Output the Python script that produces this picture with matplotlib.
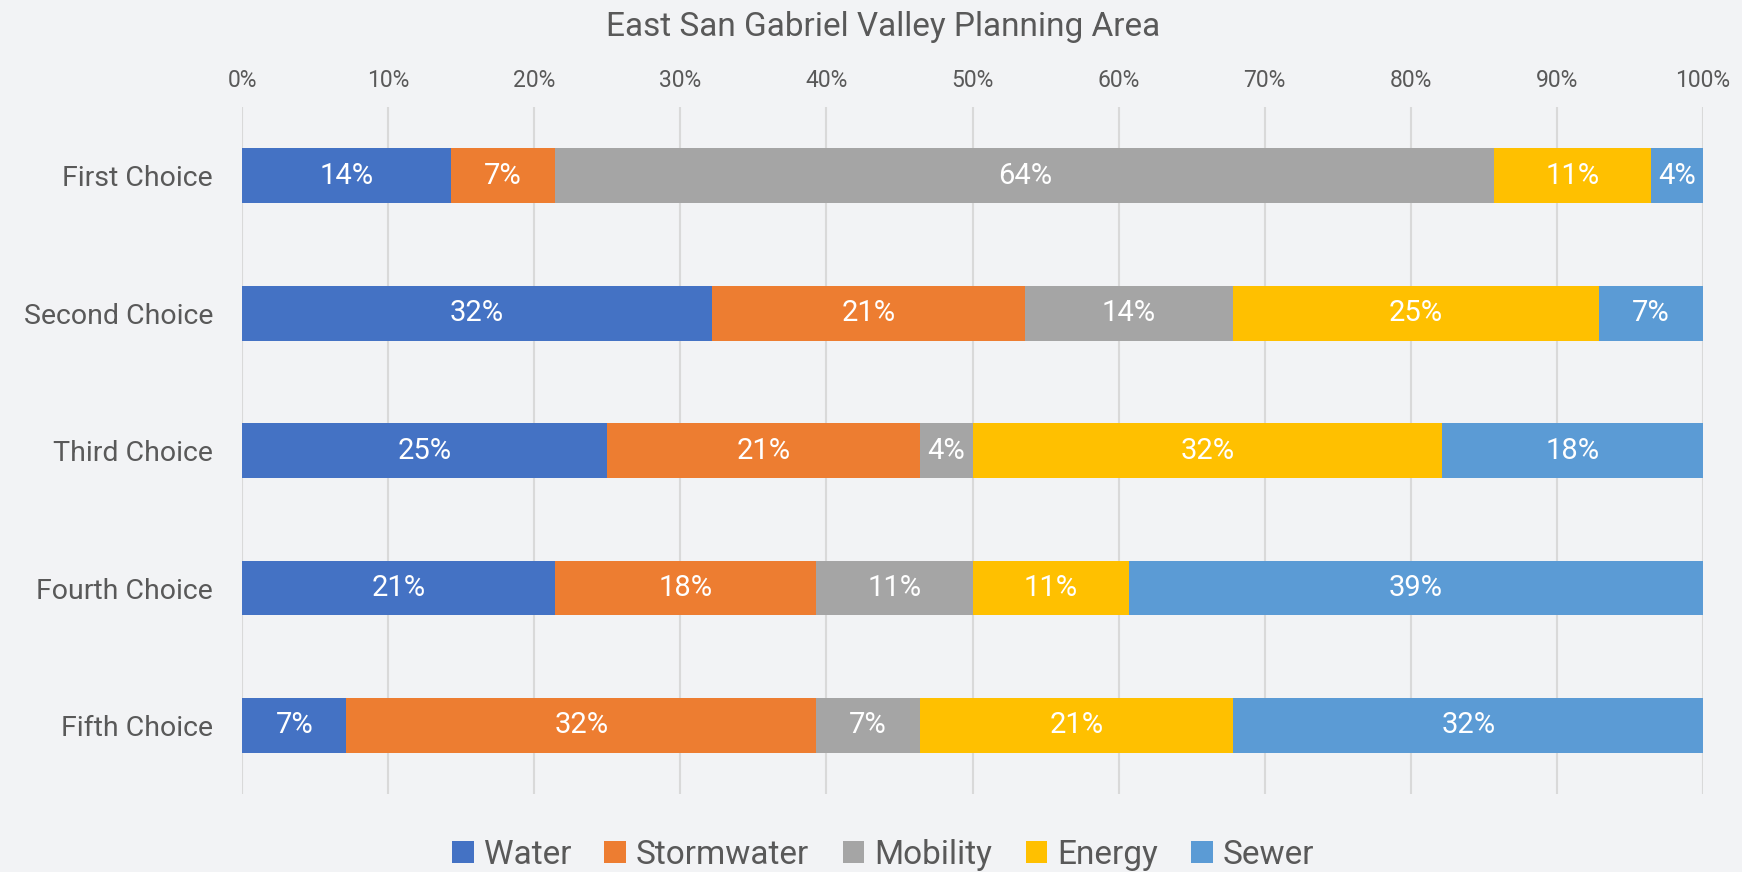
import numpy as np
import matplotlib
matplotlib.use("Agg")
import matplotlib.pyplot as plt

plt.rcParams['font.family'] = ['Roboto', 'DejaVu Sans']

# responses per choice (28 respondents), shown as 100% stacked bars
choices = ['First Choice', 'Second Choice', 'Third Choice', 'Fourth Choice', 'Fifth Choice']
water = [4, 9, 7, 6, 2]
stormwater = [2, 6, 6, 5, 9]
mobility = [18, 4, 1, 3, 2]
energy = [3, 7, 9, 3, 6]
sewer = [1, 2, 5, 11, 9]

series = ['Water', 'Stormwater', 'Mobility', 'Energy', 'Sewer']
colors = ['#4472C4', '#ED7D31', '#A5A5A5', '#FFC000', '#5B9BD5']
ticks = [0, 0.1, 0.2, 0.3, 0.4, 0.5, 0.6, 0.7, 0.8, 0.9, 1.0]

bg = '#F2F3F5'
txt = '#595959'

data = np.array([water, stormwater, mobility, energy, sewer], dtype=float)
share = data / data.sum(axis=0)

fig = plt.figure(figsize=(17.42, 8.72), dpi=100, facecolor=bg)
ax = fig.add_axes([0.139, 0.0894, 0.8386, 0.7876], facecolor=bg)

y = np.arange(len(choices))
left = np.zeros(len(choices))
for name, col, vals in zip(series, colors, share):
    ax.barh(y, vals, left=left, height=0.4, color=col, label=name, zorder=3)
    for yi, l, v in zip(y, left, vals):
        ax.text(l + v / 2, yi, '{:.0%}'.format(v), ha='center', va='center',
                color='white', fontsize=21, zorder=4)
    left += vals

ax.set_xlim(0, 1)
ax.set_ylim(len(choices) - 0.5, -0.5)
ax.set_yticks(y)
ax.set_yticklabels(choices, fontsize=20.5, color=txt)
ax.set_xticks(ticks)
ax.set_xticklabels(['{:.0%}'.format(t) for t in ticks], fontsize=16.5, color=txt)
ax.xaxis.tick_top()
ax.tick_params(axis='both', length=0)
ax.tick_params(axis='x', pad=11)
ax.tick_params(axis='y', pad=21)
ax.grid(axis='x', color='#D9D9D9', linewidth=1.5, zorder=0)
for s in ax.spines.values():
    s.set_visible(False)

fig.text(0.507, 0.969, 'East San Gabriel Valley Planning Area', ha='center', va='center',
         fontsize=24, color=txt)

fig.legend(loc='center', bbox_to_anchor=(0.507, 0.02), ncol=5, frameon=False,
           fontsize=24, labelcolor=txt, handlelength=0.65, handleheight=0.65,
           handletextpad=0.3, columnspacing=1.0)

fig.savefig('out.png', dpi=100, facecolor=bg)
